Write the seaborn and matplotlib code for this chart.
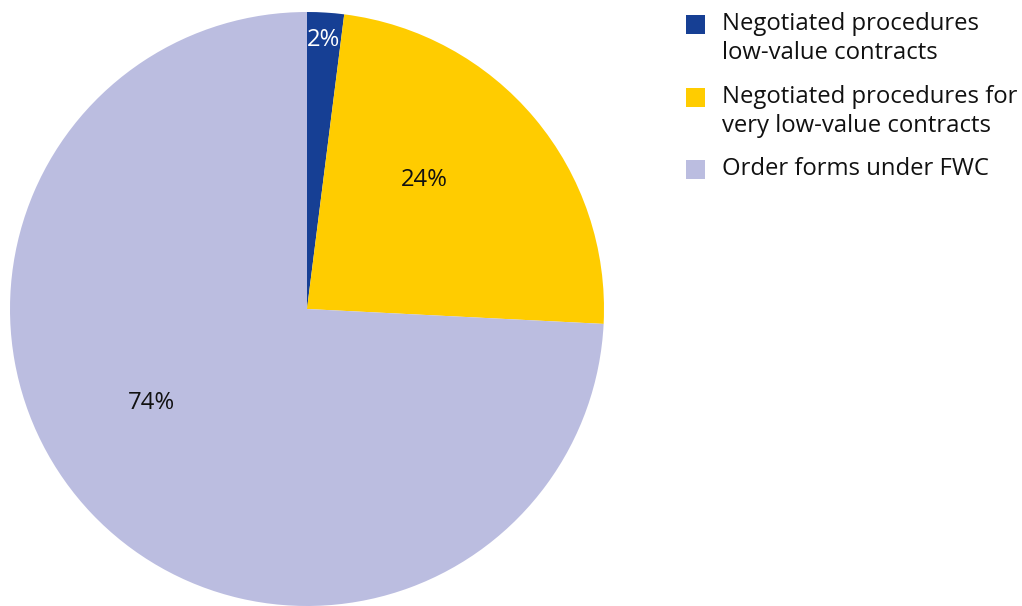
import matplotlib
matplotlib.use("Agg")
import matplotlib.pyplot as plt
import seaborn as sns
from matplotlib.patches import Rectangle

categories = ["Negotiated procedures\nlow-value contracts",
              "Negotiated procedures for\nvery low-value contracts",
              "Order forms under FWC"]
values = [2.0, 23.8, 74.2]
pct_labels = ["2%", "24%", "74%"]
colors = ["#163f94", "#ffcc00", "#bbbde0"]
label_colors = ["white", "#111111", "#111111"]

sns.set_theme(style="white")
plt.rcParams['font.family'] = ['Open Sans', 'DejaVu Sans']

W, H = 1022, 606
fig = plt.figure(figsize=(W / 100, H / 100), dpi=100)
cx, cy, r = 307, 309, 297
ax = fig.add_axes([(cx - r) / W, (H - cy - r) / H, 2 * r / W, 2 * r / H])
wedges, _ = ax.pie(values, colors=colors, startangle=90, counterclock=False,
                   radius=1, wedgeprops=dict(linewidth=0))
ax.set_xlim(-1, 1)
ax.set_ylim(-1, 1)
ax.set_aspect("equal")
ax.axis("off")

label_pos = [(0.057, 0.905), (0.394, 0.434), (-0.522, -0.316)]
for lab, col, (x, y) in zip(pct_labels, label_colors, label_pos):
    ax.text(x, y, lab, color=col, fontsize=17.2, ha="center", va="center")

# legend
sq_x, sq_w = 686, 19
entries_top = [15, 88, 160]
for cat, col, top in zip(categories, colors, entries_top):
    fig.add_artist(Rectangle((sq_x / W, (H - top - sq_w) / H), sq_w / W, sq_w / H,
                             transform=fig.transFigure, facecolor=col, edgecolor="none"))
    fig.text(722 / W, (H - top + 3) / H, cat, fontsize=17.2, color="#111111",
             ha="left", va="top", linespacing=1.28)

fig.savefig("out.png", dpi=100)
